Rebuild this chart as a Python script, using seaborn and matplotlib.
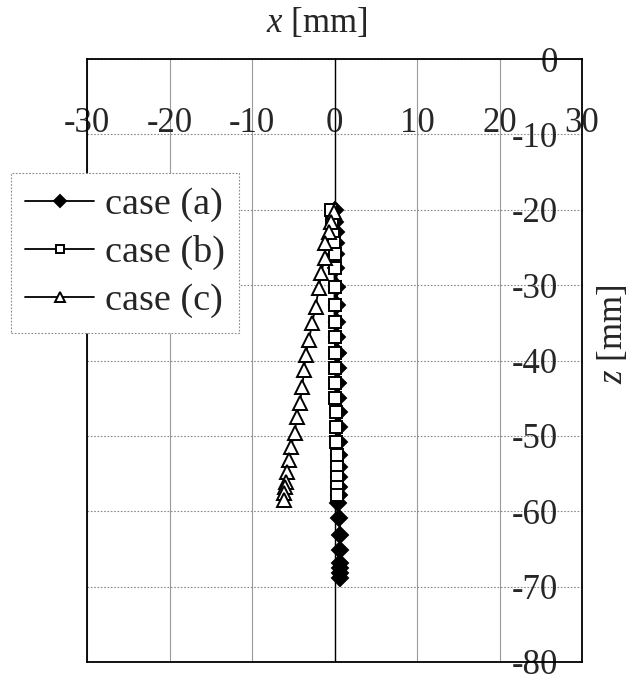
import matplotlib
matplotlib.use("Agg")
import matplotlib.pyplot as plt
import seaborn as sns
import pandas as pd

# case (a): filled diamonds
z_a = [-20.0, -21.6, -22.9, -24.4, -25.9, -27.7, -30.2, -32.6, -34.9, -36.9,
       -39.0, -41.0, -43.0, -45.0, -46.8, -48.8, -50.8, -52.5, -54.1, -55.4,
       -56.8, -57.8, -58.9, -60.9, -63.1, -65.1, -66.8, -67.5, -68.2, -68.8]
x_a = [0.1, 0.1, 0.2, 0.2, 0.2, 0.2, 0.3, 0.3, 0.3, 0.3,
       0.4, 0.4, 0.4, 0.4, 0.5, 0.5, 0.5, 0.5, 0.5, 0.5,
       0.5, 0.5, 0.4, 0.6, 0.7, 0.7, 0.7, 0.7, 0.7, 0.7]

# case (b): open squares
z_b = [-20.0, -21.6, -22.9, -24.4, -25.9, -27.7, -30.2, -32.6, -34.9, -36.9,
       -39.0, -41.0, -43.0, -45.0, -46.8, -48.8, -50.8, -52.5, -54.1, -55.4,
       -56.8, -57.8]
x_b = [-0.4, -0.3, -0.2, -0.1, 0.0, 0.0, 0.0, 0.0, 0.0, 0.0,
       0.1, 0.1, 0.1, 0.1, 0.2, 0.2, 0.2, 0.3, 0.3, 0.3,
       0.3, 0.3]

# case (c): open triangles
z_c = [-20.3, -21.6, -22.9, -24.4, -26.4, -28.4, -30.4, -32.9, -35.0, -37.3,
       -39.3, -41.2, -43.5, -45.6, -47.5, -49.6, -51.5, -53.2, -54.8, -56.1,
       -56.8, -57.6, -58.5]
x_c = [-0.1, -0.4, -0.7, -1.1, -1.2, -1.6, -1.9, -2.3, -2.7, -3.1,
       -3.5, -3.7, -3.9, -4.2, -4.6, -4.8, -5.3, -5.5, -5.8, -5.9,
       -6.0, -6.1, -6.1]

x_ticks = [-30, -20, -10, 0, 10, 20, 30]
z_ticks = [0, -10, -20, -30, -40, -50, -60, -70, -80]

sns.set_style("white")
plt.rcParams['font.family'] = ['Liberation Serif', 'DejaVu Serif']
plt.rcParams['mathtext.fontset'] = 'custom'
plt.rcParams['mathtext.rm'] = 'Liberation Serif'
plt.rcParams['mathtext.it'] = 'Liberation Serif:italic'
plt.rcParams['axes.unicode_minus'] = False

fig = plt.figure(figsize=(6.29, 6.83), dpi=100)
ax = fig.add_axes([87 / 629, 1 - 662 / 683, 495 / 629, 603 / 683])

series = [
    ("case (a)", x_a, z_a, dict(marker="D", mfc="black", ms=8.5), 3),
    ("case (b)", x_b, z_b, dict(marker="s", mfc="white", ms=8.5), 4),
    ("case (c)", x_c, z_c, dict(marker="^", mfc="white", ms=10.5), 5),
]
for name, xs, zs, kw, zo in series:
    df = pd.DataFrame({"x": xs, "z": zs})
    sns.lineplot(data=df, x="x", y="z", sort=False, estimator=None, ax=ax,
                 color="black", lw=1.3, mec="black", mew=1.4,
                 label=name, zorder=zo, **kw)

ax.set_xlim(-30, 30)
ax.set_ylim(-80, 0)
ax.set_xticks(x_ticks)
ax.set_yticks(z_ticks)

ax.xaxis.grid(True, ls="-", color="#9a9a9a", lw=0.8)
ax.yaxis.grid(True, ls=(0, (1.5, 1.5)), color="#8a8a8a", lw=0.8)
ax.axvline(0, color="black", lw=1.0, zorder=2)
for sp in ax.spines.values():
    sp.set_color("black")
    sp.set_linewidth(1.3)

ax.xaxis.tick_top()
ax.tick_params(axis="x", top=False, bottom=False, labeltop=True,
               labelbottom=False, pad=-62, labelsize=25)
ax.tick_params(axis="y", left=False, right=False, labelleft=False,
               labelright=True, pad=-21, labelsize=25)
plt.setp(ax.get_yticklabels(), ha="right")

ax.set_xlabel("$x$ [mm]", fontsize=25)
ax.xaxis.set_label_position("top")
ax.xaxis.set_label_coords(0.463, 1.060)
ax.xaxis.label.set_va("center")
ax.set_ylabel("$z$ [mm]", fontsize=25)
ax.yaxis.set_label_position("right")
ax.yaxis.set_label_coords(1.062, 0.543)
ax.yaxis.label.set_va("center")
ax.yaxis.label.set_rotation(90)

leg = ax.legend(loc="upper left", bbox_to_anchor=(-0.154, 0.811),
                borderaxespad=0, fontsize=27.5, frameon=True, fancybox=False,
                handlelength=1.8, handletextpad=0.28, labelspacing=0.34,
                borderpad=0.38, markerscale=0.75)
frame = leg.get_frame()
frame.set_edgecolor("#8a8a8a")
frame.set_linewidth(0.8)
frame.set_linestyle((0, (1.5, 1.5)))
frame.set_facecolor("white")
frame.set_alpha(1)

fig.savefig("out.png", dpi=100)
